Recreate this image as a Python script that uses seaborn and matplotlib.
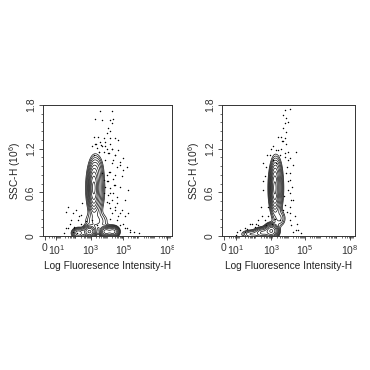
import numpy as np
import matplotlib
matplotlib.use("Agg")
import matplotlib.pyplot as plt
import pandas as pd
import seaborn as sns
from matplotlib.ticker import FixedLocator, MultipleLocator
from matplotlib.transforms import Bbox

# x axis is in decade units of the (biexponential) fluorescence scale
x_tick_pos = [0, 0.75, 2.95, 5.0, 7.8]
x_tick_labels = ["0", "10$^1$", "10$^3$", "10$^5$", "10$^8$"]
y_ticks = [0, 0.6, 1.2, 1.8]
y_tick_labels = ["0", "0.6", "1.2", "1.8"]

# population centres / spreads / peak heights
left_cx = [3.12, 3.22, 3.3, 3.3, 2.85, 2.15, 3.9, 4.35]
left_cy = [0.66, 0.66, 0.92, 0.2, 0.06, 0.04, 0.06, 0.06]
left_sx = [0.13, 0.25, 0.2, 0.4, 0.2, 0.2, 0.18, 0.18]
left_sy = [0.13, 0.18, 0.09, 0.07, 0.04, 0.035, 0.035, 0.035]
left_amp = [0.75, 0.25, 0.05, 0.05, 0.35, 0.18, 0.4, 0.4]

right_cx = [3.15, 3.22, 3.25, 3.45, 2.95, 2.4, 1.7]
right_cy = [0.66, 0.66, 0.9, 0.24, 0.07, 0.045, 0.025]
right_sx = [0.11, 0.2, 0.15, 0.2, 0.2, 0.25, 0.3]
right_sy = [0.13, 0.18, 0.09, 0.06, 0.045, 0.035, 0.03]
right_amp = [0.75, 0.25, 0.05, 0.05, 0.55, 0.22, 0.08]

# single events outside the contours
left_dot_x = [3.50, 4.31, 3.23, 3.64, 4.16, 4.37, 4.27, 4.06, 4.16, 3.95, 3.13, 3.37,
              3.75, 4.16, 4.47, 4.68, 3.23, 3.54, 3.85, 4.16, 3.02, 3.33, 3.64, 3.95,
              4.27, 3.44, 3.75, 4.06, 4.47, 4.78, 3.13, 4.37, 4.58, 5.01,
              3.64, 3.95, 4.16, 3.75, 4.06, 4.37, 3.85, 4.16, 4.47, 3.75, 4.06, 4.37,
              3.95, 4.27, 4.58, 4.16, 4.47, 4.78, 5.09, 1.37, 1.99, 1.68, 2.19, 1.47,
              1.88, 2.30, 2.61, 3.02, 3.33, 4.78, 5.09, 5.40, 5.71, 4.58, 4.16, 1.78,
              2.09, 6.02, 1.26, 1.50, 2.40,
              3.25, 3.56, 3.87, 4.29, 4.70, 3.46, 4.08, 4.49, 5.01, 3.87, 4.29, 4.80,
              5.22, 4.08, 4.49, 4.91, 3.98, 4.39, 4.80, 5.32, 4.18, 4.60, 5.11, 4.08,
              4.49, 4.91, 5.32, 4.29, 4.70, 1.80, 2.11, 1.60, 1.39, 2.32, 1.90, 5.22,
              5.42, 5.01]
left_dot_y = [1.72, 1.72, 1.61, 1.59, 1.59, 1.61, 1.55, 1.48, 1.44, 1.41, 1.36, 1.36,
              1.34, 1.34, 1.34, 1.32, 1.27, 1.29, 1.29, 1.26, 1.23, 1.21, 1.23, 1.20,
              1.20, 1.16, 1.16, 1.14, 1.11, 1.02, 1.11, 1.04, 0.95, 0.91,
              0.86, 0.84, 0.88, 0.77, 0.75, 0.79, 0.68, 0.66, 0.70, 0.59, 0.56, 0.59,
              0.47, 0.49, 0.45, 0.38, 0.36, 0.31, 0.27, 0.33, 0.36, 0.22, 0.27, 0.11,
              0.13, 0.17, 0.20, 0.22, 0.15, 0.15, 0.11, 0.08, 0.06, 0.22, 0.24, 0.06,
              0.04, 0.04, 0.04, 0.40, 0.45,
              1.27, 1.25, 1.23, 1.20, 1.18, 1.16, 1.14, 1.11, 1.07, 1.04, 1.00, 0.98,
              0.95, 0.88, 0.84, 0.82, 0.75, 0.70, 0.68, 0.63, 0.59, 0.54, 0.49, 0.45,
              0.40, 0.36, 0.31, 0.31, 0.27, 0.31, 0.22, 0.17, 0.11, 0.29, 0.11, 0.11,
              0.06, 0.17]

right_dot_x = [3.77, 4.07, 3.66, 3.87, 3.77, 3.97, 3.66, 3.87, 3.56, 3.77, 3.35, 3.66,
               3.87, 2.94, 3.25, 3.56, 3.97, 4.49, 2.84, 3.46, 3.77, 4.07, 3.04, 3.25,
               2.63, 4.28, 3.87, 4.07, 3.97, 4.18, 3.66, 4.07, 2.43, 2.33, 2.74, 1.60,
               1.91, 0.99, 1.30, 0.78, 2.63, 4.18, 4.49, 4.80, 3.46, 4.38, 2.12, 3.70,
               3.80, 1.45, 2.00,
               3.58, 3.07, 3.37, 3.79, 2.65, 3.99, 2.45, 3.89, 4.09, 2.55, 3.99, 4.20,
               2.45, 4.09, 4.30, 2.76, 4.09, 3.89, 2.35, 2.55, 1.73, 2.14, 1.32, 4.09,
               4.51, 4.61, 4.30, 0.80, 3.17, 2.96]
right_dot_y = [1.73, 1.75, 1.66, 1.62, 1.55, 1.57, 1.48, 1.43, 1.36, 1.34, 1.36, 1.30,
               1.27, 1.20, 1.18, 1.20, 1.16, 1.16, 1.11, 1.11, 1.09, 1.07, 1.04, 1.00,
               0.95, 0.98, 0.86, 0.77, 0.63, 0.49, 0.36, 0.31, 0.75, 0.40, 0.27, 0.17,
               0.13, 0.08, 0.06, 0.01, 0.15, 0.15, 0.08, 0.04, 0.22, 0.27, 0.22, 0.55,
               0.42, 0.10, 0.16,
               1.30, 1.23, 1.18, 1.14, 1.11, 1.04, 1.00, 0.95, 0.86, 0.82, 0.75, 0.68,
               0.63, 0.59, 0.49, 0.40, 0.40, 0.33, 0.27, 0.22, 0.17, 0.15, 0.11, 0.22,
               0.17, 0.08, 0.06, 0.06, 0.24, 0.17]

sns.set_style("ticks")
plt.rcParams["font.family"] = ["Liberation Sans", "DejaVu Sans"]
plt.rcParams["mathtext.fontset"] = "custom"
plt.rcParams["mathtext.rm"] = "Liberation Sans"

fig = plt.figure(figsize=(3.7, 3.7), dpi=100)
ax_left = fig.add_axes([0.1162, 0.3622, 0.3486, 0.354])
ax_right = fig.add_axes([0.6, 0.3622, 0.3595, 0.354])

gx, gy = np.meshgrid(np.linspace(-0.1, 8.1, 600), np.linspace(-0.06, 1.8, 600))
levels = [0.012 * 1.6 ** k for k in range(10)]
minor_x = [d + np.log10(k) for d in range(8) for k in range(2, 10)]


def draw_panel(ax, cx, cy, sx, sy, amp, dot_x, dot_y):
    z = np.zeros_like(gx)
    for x0, y0, u, v, a in zip(cx, cy, sx, sy, amp):
        z += a * np.exp(-0.5 * (((gx - x0) / u) ** 2 + ((gy - y0) / v) ** 2))
    ax.contour(gx, gy, z, levels=levels, colors="#111111", linewidths=0.5)
    dots = pd.DataFrame({"x": dot_x, "y": dot_y})
    sns.scatterplot(data=dots, x="x", y="y", ax=ax, color="black", s=1.1,
                    marker="o", linewidth=0)

    ax.set_xlim(-0.1, 8.1)
    ax.set_ylim(0, 1.8)
    ax.set_xticks(x_tick_pos)
    ax.set_xticklabels(x_tick_labels)
    ax.xaxis.set_minor_locator(FixedLocator(minor_x))
    ax.set_yticks(y_ticks)
    ax.set_yticklabels(y_tick_labels, rotation=90, va="center")
    ax.yaxis.set_minor_locator(MultipleLocator(0.12))
    ax.tick_params(which="major", length=3, width=0.6, direction="out", pad=2,
                   labelsize=7.5, colors="#333333")
    ax.tick_params(which="minor", length=1.5, width=0.5, direction="out",
                   colors="#333333")
    for s in ax.spines.values():
        s.set_linewidth(0.7)
        s.set_color("#333333")
    ax.set_xlabel("Log Fluoresence Intensity-H", fontsize=7.3, labelpad=3,
                  color="#222222")
    ax.set_ylabel("SSC-H (10$^6$)", fontsize=7.3, labelpad=2, color="#222222")


draw_panel(ax_left, left_cx, left_cy, left_sx, left_sy, left_amp,
           left_dot_x, left_dot_y)
draw_panel(ax_right, right_cx, right_cy, right_sx, right_sy, right_amp,
           right_dot_x, right_dot_y)

# the left panel's last tick label is cut off in the original figure
last = ax_left.get_xticklabels()[-1]
last.set_clip_box(Bbox.from_extents(0, 0, 174, 370))
last.set_clip_on(True)

fig.savefig("out.png", dpi=100)
